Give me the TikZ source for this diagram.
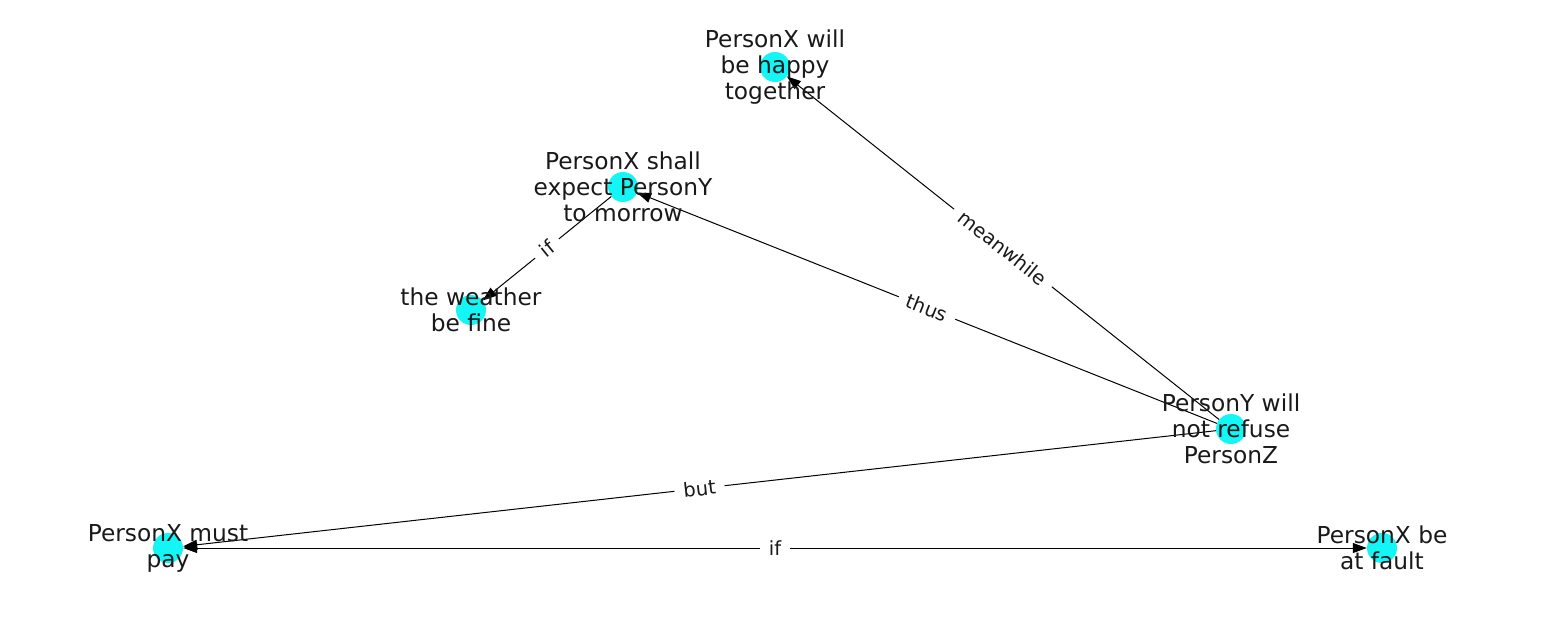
\documentclass[tikz,border=0pt]{standalone}
\usepackage{fontspec}
\setmainfont{DejaVu Sans}
\usetikzlibrary{arrows.meta}

\definecolor{aqua}{RGB}{20,245,245}
\tikzset{
	dot/.style={circle, fill=aqua, minimum size=30pt, inner sep=0pt},
	txt/.style={align=center, font=\fontsize{23.3}{26}\selectfont, text=black!90},
	lbl/.style={sloped, fill=white, inner xsep=9pt, inner ysep=5pt, font=\fontsize{19.5}{20}\selectfont, text=black!90}
}

\begin{document}
\begin{tikzpicture}[x=1pt, y=-1pt, >={Triangle[length=14pt,width=10pt]}]
	\useasboundingbox (0,0) rectangle (1550,616);
	% nodes
	\node [dot] (happy) at (775,67) {};
	\node [dot] (expect) at (623,187) {};
	\node [dot] (weather) at (471,310) {};
	\node [dot] (refuse) at (1231,429) {};
	\node [dot] (pay) at (168,548) {};
	\node [dot] (fault) at (1382,548) {};
	% edges
	\draw [line width=1pt, ->] (refuse) -- node [lbl] {meanwhile} (happy);
	\draw [line width=1pt, ->] (refuse) -- node [lbl] {thus} (expect);
	\draw [line width=1pt, ->] (expect) -- node [lbl] {if} (weather);
	\draw [line width=1pt, ->] (refuse) -- node [lbl] {but} (pay);
	\draw [line width=1pt, <->] (pay) -- node [lbl] {if} (fault);
	% labels
	\node [txt] (happy-txt) at (happy) {PersonX will\\be happy\\together};
	\node [txt] (expect-txt) at (expect) {PersonX shall\\expect PersonY\\to morrow};
	\node [txt] (weather-txt) at (weather) {the weather\\be fine};
	\node [txt] (refuse-txt) at (refuse) {PersonY will\\not refuse\\PersonZ};
	\node [txt] (pay-txt) at (pay) {PersonX must\\pay};
	\node [txt] (fault-txt) at (fault) {PersonX be\\at fault};
\end{tikzpicture}
\end{document}
